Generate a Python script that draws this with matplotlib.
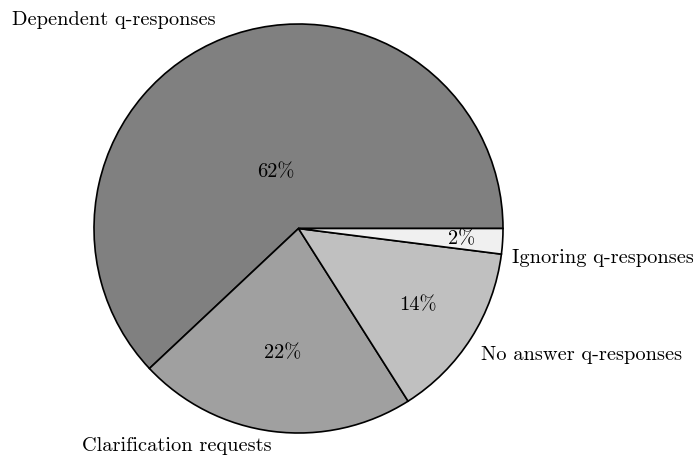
import numpy as np
import matplotlib
matplotlib.use("Agg")
import matplotlib.pyplot as plt

categories = ["Dependent q-responses", "Clarification requests",
              "No answer q-responses", "Ignoring q-responses"]
values = [62, 22, 14, 2]
pct_labels = ["62%", "22%", "14%", "2%"]
colors = ["#808080", "#a0a0a0", "#c0c0c0", "#f0f0f0"]
pct_dist = [0.30, 0.61, 0.69, 0.80]
label_dist = [1.10, 1.067, 1.057, 1.046]
label_va = ['center', 'center', 'top', 'top']
label_dy_px = [0, 0, -1, -6]

plt.rcParams['font.family'] = ['cmr10', 'DejaVu Serif']
FS = 14.7
R_PX = 204.5

fig = plt.figure(figsize=(6.93, 4.56), dpi=100)
ax = fig.add_axes([0, 0, 1, 1])

wedges, _ = ax.pie(values, colors=colors, startangle=0, counterclock=True,
                   radius=1.0, center=(0, 0), frame=True,
                   wedgeprops=dict(edgecolor='black', linewidth=1.2))
ax.set_xlim(-298.5 / R_PX, (693 - 298.5) / R_PX)
ax.set_ylim(-(456 - 229.5) / R_PX, 229.5 / R_PX)
ax.set_aspect('auto')
ax.axis('off')

for w, lab, pl, pd, ld, va, dy in zip(wedges, categories, pct_labels,
                                      pct_dist, label_dist, label_va,
                                      label_dy_px):
    ang = np.deg2rad((w.theta1 + w.theta2) / 2)
    c, s = np.cos(ang), np.sin(ang)
    ax.text(pd * c, pd * s, pl, ha='center', va='center', fontsize=FS)
    ha = 'left' if c > 0 else 'right'
    ax.text(ld * c, ld * s + dy / R_PX, lab, ha=ha, va=va, fontsize=FS)

fig.savefig("out.png", dpi=100)
